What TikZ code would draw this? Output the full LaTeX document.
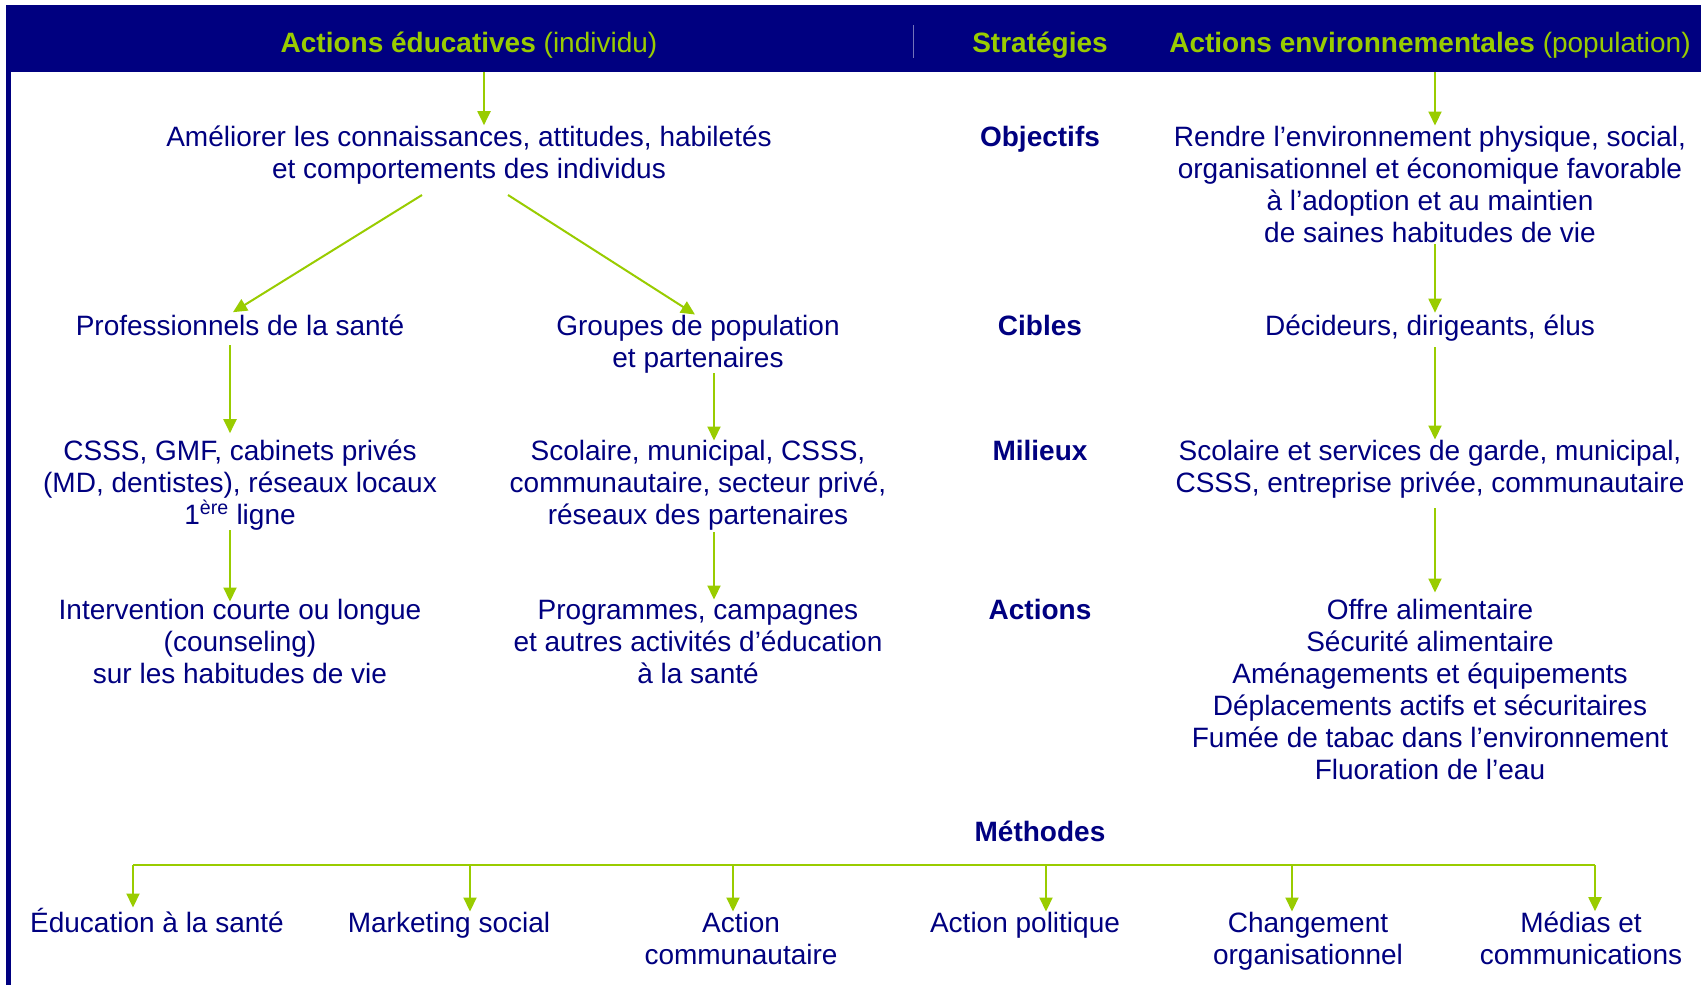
\documentclass[tikz,border=0pt]{standalone}
\usepackage{fontspec}
\setmainfont{Liberation Sans}
\usetikzlibrary{arrows.meta}
\definecolor{navy}{RGB}{0,0,128}
\definecolor{lime}{RGB}{153,204,0}
\begin{document}
\begin{tikzpicture}[x=1pt,y=-1pt,
  txt/.style={text=navy,font=\fontsize{28}{32}\selectfont,align=center,inner sep=0pt,anchor=base},
  lbl/.style={txt,font=\fontsize{28}{32}\selectfont\bfseries},
  hdr/.style={text=lime,font=\fontsize{28}{32}\selectfont,inner sep=0pt,anchor=base},
  arr/.style={draw=lime,line width=2pt,-{Triangle[width=13pt,length=14pt]}},
  bus/.style={draw=lime,line width=2pt},
]
\useasboundingbox (0,0) rectangle (1701,985);
\fill[white] (0,0) rectangle (1701,985);
\node[fill=navy,minimum width=1695pt,minimum height=67pt,inner sep=0pt,anchor=north west] (band) at (6,5) {};
\fill[navy] (6,5) rectangle (11,985);
\draw[navy!55!white,line width=0.8pt] (913,25) -- (913,58);

\node[hdr] (hL) at (469,52) {\textbf{Actions éducatives} (individu)};
\node[hdr] (hS) at (1040,52) {\textbf{Stratégies}};
\node[hdr] (hR) at (1430,52) {\textbf{Actions environnementales} (population)};

\node[lbl] (sObj) at (1040,146) {Objectifs};
\node[lbl] (sCib) at (1040,335) {Cibles};
\node[lbl] (sMil) at (1040,460) {Milieux};
\node[lbl] (sAct) at (1040,619) {Actions};
\node[lbl] (sMet) at (1040,841) {Méthodes};

% multi-line nodes: the base anchor is the baseline of the last line
\node[txt] (objL) at (469,178) {Améliorer les connaissances, attitudes, habiletés\\et comportements des individus};
\node[txt] (objR) at (1430,242) {Rendre l’environnement physique, social,\\organisationnel et économique favorable\\à l’adoption et au maintien\\de saines habitudes de vie};
\node[txt] (cibA) at (240,335) {Professionnels de la santé};
\node[txt] (cibB) at (698,367) {Groupes de population\\et partenaires};
\node[txt] (cibR) at (1430,335) {Décideurs, dirigeants, élus};
\node[txt] (milA) at (240,524) {CSSS, GMF, cabinets privés\\(MD, dentistes), réseaux locaux\\1\textsuperscript{ère} ligne};
\node[txt] (milB) at (698,524) {Scolaire, municipal, CSSS,\\communautaire, secteur privé,\\réseaux des partenaires};
\node[txt] (milR) at (1430,492) {Scolaire et services de garde, municipal,\\CSSS, entreprise privée, communautaire};
\node[txt] (actA) at (240,683) {Intervention courte ou longue\\(counseling)\\sur les habitudes de vie};
\node[txt] (actB) at (698,683) {Programmes, campagnes\\et autres activités d’éducation\\à la santé};
\node[txt] (actR) at (1430,779) {Offre alimentaire\\Sécurité alimentaire\\Aménagements et équipements\\Déplacements actifs et sécuritaires\\Fumée de tabac dans l’environnement\\Fluoration de l’eau};

\node[txt] (m1) at (157,932) {Éducation à la santé};
\node[txt] (m2) at (449,932) {Marketing social};
\node[txt] (m3) at (741,964) {Action\\communautaire};
\node[txt] (m4) at (1025,932) {Action politique};
\node[txt] (m5) at (1308,964) {Changement\\organisationnel};
\node[txt] (m6) at (1581,964) {Médias et\\communications};

\coordinate (cL) at (484,0);
\coordinate (cR) at (1435,0);
\coordinate (cA) at (230,0);
\coordinate (cB) at (714,0);

\draw[arr] (band.south -| cL) -- (objL.north -| cL);
\draw[arr] (band.south -| cR) -- (objR.north -| cR);
\draw[arr] ([xshift=-47pt,yshift=-11pt]objL.south) -- ([xshift=-7pt,yshift=2pt]cibA.north);
\draw[arr] ([xshift=39pt,yshift=-11pt]objL.south) -- ([xshift=-3pt]cibB.north);
\draw[arr,shorten <=10pt,shorten >=6pt] (cibA.south -| cA) -- (milA.north -| cA);
\draw[arr,shorten >=-1pt] (cibB.south -| cB) -- (milB.north -| cB);
\draw[arr,shorten >=-3pt] (milA.south -| cA) -- (actA.north -| cA);
\draw[arr,shorten <=2pt] (milB.south -| cB) -- (actB.north -| cB);
\draw[arr,shorten <=2pt,shorten >=1.5pt] (objR.south -| cR) -- (cibR.north -| cR);
\draw[arr,shorten <=6pt] (cibR.south -| cR) -- (milR.north -| cR);
\draw[arr,shorten <=10pt,shorten >=6pt] (milR.south -| cR) -- (actR.north -| cR);

\coordinate (d1) at (133,865);
\coordinate (d2) at (470,865);
\coordinate (d3) at (733,865);
\coordinate (d4) at (1046,865);
\coordinate (d5) at (1292,865);
\coordinate (d6) at (1595,865);
\draw[bus] (d1) -- (d6);
\draw[arr] (d1) -- (d1 |- m1.north);
\draw[arr] (d2) -- (d2 |- m2.north);
\draw[arr] (d3) -- (d3 |- m3.north);
\draw[arr] (d4) -- (d4 |- m4.north);
\draw[arr] (d5) -- (d5 |- m5.north);
\draw[arr] (d6) -- (d6 |- m6.north);
\end{tikzpicture}
\end{document}
